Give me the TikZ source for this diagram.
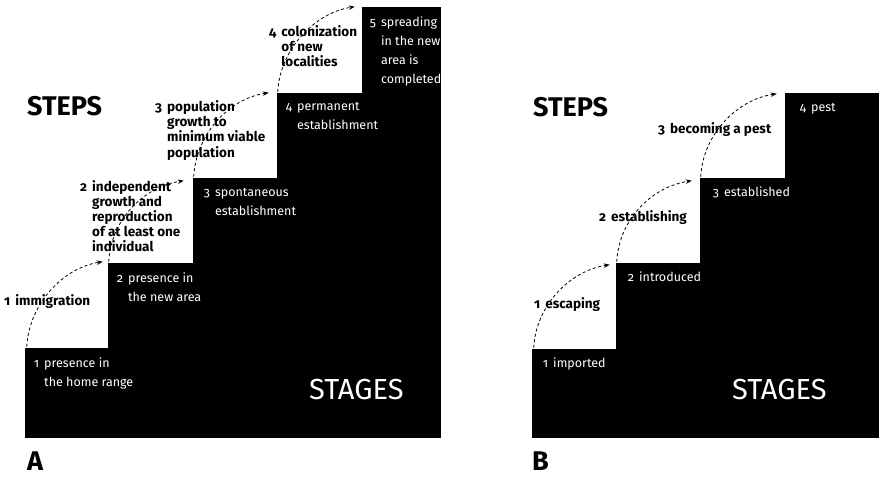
\documentclass[tikz,border=0pt]{standalone}
\usepackage{fontspec}
\setmainfont{Fira Sans}[Numbers=OldStyle]
\usetikzlibrary{arrows.meta,fit}

\newcommand{\numlabel}[2]{#1\hspace{5pt}\begin{tabular}[t]{@{}l@{}}#2\end{tabular}}

\begin{document}
\begin{tikzpicture}[
      x=1pt, y=1pt,
      >={Stealth[length=6pt, width=4.5pt]},
      stage/.style={rectangle, fill=black, draw=black, line width=0.5pt, inner sep=0pt},
      stagetext/.style={anchor=base west, inner sep=0pt, text=white,
            font=\fontsize{12.5}{19}\selectfont},
      steptext/.style={anchor=base west, inner sep=0pt,
            font=\bfseries\fontsize{13.5}{14.5}\selectfont},
      heading/.style={anchor=west, inner sep=0pt, font=\bfseries\fontsize{27}{27}\selectfont},
      stagesword/.style={anchor=west, inner sep=0pt, text=white, font=\fontsize{29}{29}\selectfont},
      panel/.style={anchor=base west, inner sep=0pt, font=\bfseries\fontsize{27}{27}\selectfont},
      line/.style={->, line width=0.8pt, dash pattern=on 3pt off 2.5pt},
      climb/.style={line, to path={.. controls +(2,42) and +(-40,-6) .. (\tikztotarget)}}
]
\useasboundingbox (0,0) rectangle (879,-478);

% panel A: stages as a staircase
\node[stage, fit={(25,-348) (108,-437)}] (a1) {};
\node[stage, fit={(108,-263) (193,-437)}] (a2) {};
\node[stage, fit={(193,-178) (277,-437)}] (a3) {};
\node[stage, fit={(277,-93) (362,-437)}] (a4) {};
\node[stage, fit={(362,-7) (440,-437)}] (a5) {};

\node[stagetext] (a1text) at ([shift={(9,-19.5)}]a1.north west) {\numlabel{1}{presence in\\the home range}};
\node[stagetext] (a2text) at ([shift={(9,-19.5)}]a2.north west) {\numlabel{2}{presence in\\the new area}};
\node[stagetext] (a3text) at ([shift={(11,-19)}]a3.north west) {\numlabel{3}{spontaneous\\establishment}};
\node[stagetext] (a4text) at ([shift={(9,-18)}]a4.north west) {\numlabel{4}{permanent\\establishment}};
\node[stagetext] (a5text) at ([shift={(8,-19.5)}]a5.north west) {\numlabel{5}{spreading\\in the new\\area is\\completed}};

\node[steptext] (a1step) at (4,-306) {\numlabel{1}{immigration}};
\node[steptext] (a2step) at (80,-192) {\numlabel{2}{independent\\growth and\\reproduction\\of at least one\\individual}};
\node[steptext] (a3step) at (155,-112) {\numlabel{3}{population\\growth to\\minimum viable\\population}};
\node[steptext] (a4step) at (269,-37) {\numlabel{4}{colonization\\of new\\localities}};

\node[heading] (asteps) at (27,-106) {STEPS};
\node[stagesword] (astages) at (309,-390) {STAGES};
\node[panel] (apanel) at (27,-471) {A};

\draw[climb] ([shift={(2,1)}]a1.north west) to ([shift={(-5,1)}]a2.north west);
\draw[climb] ([shift={(1,1)}]a2.north west) to ([shift={(-9,-3)}]a3.north west);
\draw[climb] ([shift={(1,1)}]a3.north west) to ([shift={(-8,0)}]a4.north west);
\draw[climb] ([shift={(1,1)}]a4.north west) to ([shift={(-7,0)}]a5.north west);

% panel B
\node[stage, fit={(532,-349) (616,-437)}] (b1) {};
\node[stage, fit={(616,-263) (700,-437)}] (b2) {};
\node[stage, fit={(700,-178) (785,-437)}] (b3) {};
\node[stage, fit={(785,-93) (879,-437)}] (b4) {};

\node[stagetext] (b1text) at ([shift={(11,-19)}]b1.north west) {\numlabel{1}{imported}};
\node[stagetext] (b2text) at ([shift={(12,-19)}]b2.north west) {\numlabel{2}{introduced}};
\node[stagetext] (b3text) at ([shift={(13,-19)}]b3.north west) {\numlabel{3}{established}};
\node[stagetext] (b4text) at ([shift={(15,-19)}]b4.north west) {\numlabel{4}{pest}};

\node[steptext] (b1step) at (534,-309) {\numlabel{1}{escaping}};
\node[steptext] (b2step) at (599,-222) {\numlabel{2}{establishing}};
\node[steptext] (b3step) at (658,-134) {\numlabel{3}{becoming a pest}};

\node[heading] (bsteps) at (533,-107) {STEPS};
\node[stagesword] (bstages) at (732,-390) {STAGES};
\node[panel] (bpanel) at (532,-471) {B};

\draw[climb] ([shift={(2,1)}]b1.north west) to ([shift={(-6,-2)}]b2.north west);
\draw[climb] ([shift={(1,1)}]b2.north west) to ([shift={(-8,-3)}]b3.north west);
\draw[climb] ([shift={(1,1)}]b3.north west) to ([shift={(-8,-1)}]b4.north west);
\end{tikzpicture}
\end{document}
